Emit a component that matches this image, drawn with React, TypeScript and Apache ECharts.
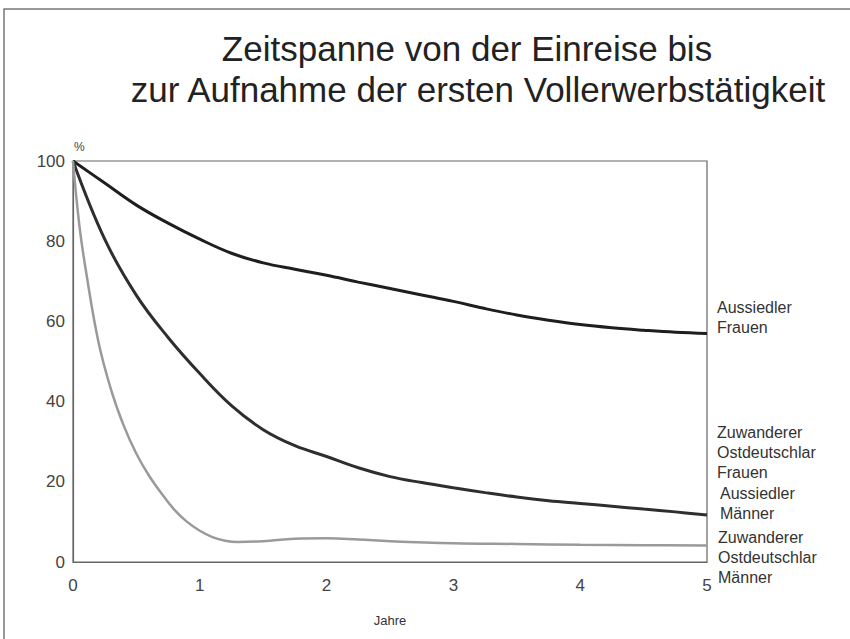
import React, { useEffect, useRef } from "react";
import * as echarts from "echarts";

const titleLines = ["Zeitspanne von der Einreise bis", "zur Aufnahme der ersten Vollerwerbstätigkeit"];
const xTicks = [0, 1, 2, 3, 4, 5];
const yTicks = [0, 20, 40, 60, 80, 100];

const aussiedlerFrauen: [number, number][] = [
  [0, 100], [0.25, 94.5], [0.5, 89], [0.75, 84.5], [1, 80.5], [1.25, 77], [1.5, 74.6],
  [1.75, 73], [2, 71.5], [2.25, 69.8], [2.5, 68.2], [2.75, 66.6], [3, 65], [3.25, 63.2],
  [3.5, 61.6], [3.75, 60.3], [4, 59.2], [4.25, 58.4], [4.5, 57.8], [4.75, 57.3], [5, 57],
];
const mittlereKurve: [number, number][] = [
  [0, 100], [0.25, 80.5], [0.5, 66.5], [0.75, 56], [1, 47], [1.25, 39], [1.5, 33],
  [1.75, 29], [2, 26.3], [2.25, 23.5], [2.5, 21.3], [2.75, 19.8], [3, 18.5], [3.25, 17.3],
  [3.5, 16.2], [3.75, 15.3], [4, 14.6], [4.25, 13.9], [4.5, 13.2], [4.75, 12.5], [5, 11.7],
];
const zuwandererMaenner: [number, number][] = [
  [0, 100], [0.05, 84], [0.1, 73], [0.2, 55], [0.3, 43], [0.4, 34], [0.5, 27], [0.6, 21.5],
  [0.7, 17], [0.8, 13], [0.9, 10], [1, 7.8], [1.1, 6.2], [1.2, 5.3], [1.3, 5], [1.5, 5.2],
  [1.75, 5.8], [2, 5.9], [2.25, 5.6], [2.5, 5.2], [3, 4.7], [3.5, 4.5], [4, 4.3], [4.5, 4.2], [5, 4.1],
];

const endLabels = [
  { lines: ["Aussiedler", "Frauen"], x: 717, y: 307 },
  { lines: ["Zuwanderer", "Ostdeutschlar", "Frauen"], x: 717, y: 432 },
  { lines: ["Aussiedler", "Männer"], x: 720, y: 493 },
  { lines: ["Zuwanderer", "Ostdeutschlar", "Männer"], x: 718, y: 537 },
];

const FONT = "'Liberation Sans', Arial, sans-serif";

export default function App() {
  const ref = useRef<HTMLDivElement>(null);
  useEffect(() => {
    if (!ref.current) return;
    const chart = echarts.init(ref.current, undefined, { renderer: "svg" });
    const graphics: any[] = [
      {
        type: "rect",
        shape: { x: 4, y: 9, width: 900, height: 700 },
        style: { fill: "none", stroke: "#777", lineWidth: 1.5 },
        silent: true,
      },
      {
        type: "text",
        x: 467, y: 48,
        style: { text: titleLines[0], font: `35px ${FONT}`, fill: "#222", textAlign: "center", textVerticalAlign: "middle" },
      },
      {
        type: "text",
        x: 478, y: 89,
        style: { text: titleLines[1], font: `35px ${FONT}`, fill: "#222", textAlign: "center", textVerticalAlign: "middle" },
      },
      {
        type: "text",
        x: 74, y: 147,
        style: { text: "%", font: `12px ${FONT}`, fill: "#444", textAlign: "left", textVerticalAlign: "middle" },
      },
    ];
    endLabels.forEach((g) => {
      g.lines.forEach((t, i) => {
        graphics.push({
          type: "text",
          x: g.x, y: g.y + i * 20,
          style: { text: t, font: `16px ${FONT}`, fill: "#333", textAlign: "left", textVerticalAlign: "middle" },
        });
      });
    });
    chart.setOption({
      animation: false,
      backgroundColor: "#fff",
      grid: { left: 73, right: 143, top: 161, bottom: 77, show: true, borderColor: "#666", borderWidth: 1.2, backgroundColor: "transparent" },
      xAxis: {
        type: "value", min: 0, max: 5, interval: 1,
        name: "Jahre", nameLocation: "middle", nameGap: 52,
        nameTextStyle: { fontFamily: FONT, fontSize: 13, color: "#333" },
        axisLine: { show: true, lineStyle: { color: "#666", width: 1.2 } },
        axisTick: { show: false },
        splitLine: { show: false },
        axisLabel: {
          margin: 15, fontFamily: FONT, fontSize: 17, color: "#444",
          formatter: (v: number) => (xTicks.includes(v) ? String(v) : ""),
        },
      },
      yAxis: {
        type: "value", min: 0, max: 100, interval: 20,
        axisLine: { show: true, lineStyle: { color: "#666", width: 1.2 } },
        axisTick: { show: false },
        splitLine: { show: false },
        axisLabel: {
          margin: 8, fontFamily: FONT, fontSize: 17, color: "#444",
          formatter: (v: number) => (yTicks.includes(v) ? String(v) : ""),
        },
      },
      series: [
        { type: "line", data: aussiedlerFrauen, smooth: 0.4, showSymbol: false, lineStyle: { color: "#1e1e1e", width: 3 } },
        { type: "line", data: mittlereKurve, smooth: 0.4, showSymbol: false, lineStyle: { color: "#2e2e2e", width: 3 } },
        { type: "line", data: zuwandererMaenner, smooth: 0.4, showSymbol: false, lineStyle: { color: "#9a9a9a", width: 2.5 } },
      ],
      graphic: graphics,
    });
    return () => chart.dispose();
  }, []);
  return <div ref={ref} style={{ position: "fixed", left: 0, top: 0, width: 850, height: 639 }} />;
}
